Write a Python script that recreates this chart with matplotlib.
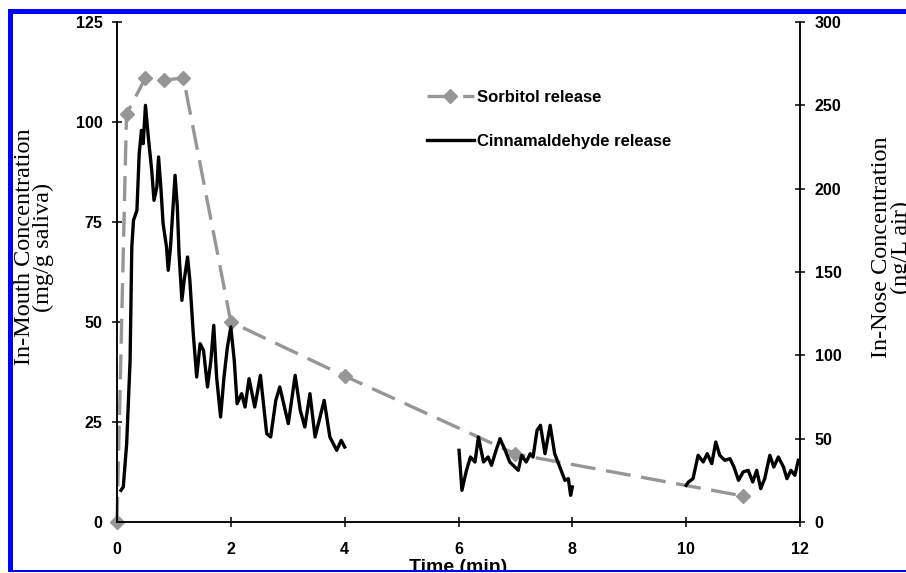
"""In-mouth sorbitol vs in-nose cinnamaldehyde release over time."""

import matplotlib

matplotlib.use("Agg")
import matplotlib.pyplot as plt
from matplotlib.font_manager import FontProperties
from matplotlib.patches import Rectangle

# Sorbitol, in-mouth (mg/g saliva), left axis
sorbitol_time = [0, 0.167, 0.5, 0.833, 1.167, 2, 4, 7, 11]
sorbitol_conc = [0, 102, 111, 110.5, 111, 50, 36.5, 17, 6.5]

# Cinnamaldehyde, in-nose (ng/L air), right axis -- three recorded stretches
cinn_time_1 = [0.07, 0.11, 0.17, 0.23, 0.26, 0.29, 0.35, 0.39, 0.43, 0.46,
               0.50, 0.55, 0.61, 0.65, 0.70, 0.73, 0.77, 0.81, 0.87, 0.90,
               0.94, 1.02, 1.06, 1.09, 1.14, 1.18, 1.24, 1.28, 1.34, 1.40,
               1.46, 1.52, 1.59, 1.65, 1.70, 1.75, 1.82, 1.88, 1.94, 2.00,
               2.06, 2.11, 2.19, 2.25, 2.32, 2.42, 2.52, 2.63, 2.70, 2.79,
               2.86, 3.01, 3.13, 3.22, 3.30, 3.39, 3.48, 3.64, 3.74, 3.86,
               3.94, 4.00]
cinn_conc_1 = [19, 21, 47, 97, 165, 181, 187, 221, 235, 227,
               250, 231, 211, 193, 201, 219, 201, 179, 165, 151,
               165, 208, 189, 161, 133, 145, 159, 145, 113, 87,
               107, 103, 81, 97, 118, 87, 63, 87, 105, 117,
               97, 71, 77, 69, 86, 69, 88, 53, 51, 73,
               81, 59, 88, 67, 57, 77, 51, 73, 51, 43,
               49, 45]

cinn_time_2 = [6.01, 6.06, 6.14, 6.21, 6.29, 6.35, 6.44, 6.52, 6.58, 6.66,
               6.73, 6.82, 6.90, 6.99, 7.05, 7.11, 7.19, 7.26, 7.31, 7.38,
               7.44, 7.52, 7.61, 7.69, 7.78, 7.87, 7.93, 7.97, 8.00]
cinn_conc_2 = [43, 19, 31, 39, 36, 51, 36, 39, 34, 43,
               50, 43, 36, 33, 31, 40, 36, 41, 39, 55,
               58, 41, 58, 41, 33, 25, 26, 16, 21]

cinn_time_3 = [10.0, 10.04, 10.12, 10.21, 10.30, 10.37, 10.45, 10.52, 10.59, 10.68,
               10.77, 10.84, 10.92, 11.00, 11.09, 11.17, 11.24, 11.31, 11.38, 11.47,
               11.54, 11.62, 11.71, 11.77, 11.84, 11.91, 11.97]
cinn_conc_3 = [22, 24, 26, 40, 36, 41, 35, 48, 40, 37,
               38, 33, 25, 30, 31, 24, 31, 20, 26, 40,
               33, 39, 33, 26, 31, 28, 37]

x_ticks = [0, 2, 4, 6, 8, 10, 12]
left_ticks = [0, 25, 50, 75, 100, 125]
right_ticks = [0, 50, 100, 150, 200, 250, 300]

GRAY = "#969696"
TICK_FONT = {"family": "Liberation Sans", "weight": "bold", "size": 11.5}
LABEL_FONT = {"family": "Liberation Serif", "size": 17.5}

fig = plt.figure(figsize=(9.06, 5.73), dpi=100)
ax = fig.add_axes([117 / 906, 1 - 522 / 573, 683 / 906, 500 / 573])
ax2 = ax.twinx()

ax.plot(sorbitol_time, sorbitol_conc, color=GRAY, linewidth=2.4, dashes=(7.5, 3.2),
        marker="D", markersize=7.5, clip_on=False, label="Sorbitol release")

first = True
for times, values in [(cinn_time_1, cinn_conc_1), (cinn_time_2, cinn_conc_2),
                      (cinn_time_3, cinn_conc_3)]:
    ax2.plot(times, values, color="black", linewidth=2.4,
             label="Cinnamaldehyde release" if first else None)
    first = False

ax.set_xlim(0, 12)
ax.set_ylim(0, 125)
ax2.set_ylim(0, 300)
ax.set_xticks(x_ticks)
ax.set_yticks(left_ticks)
ax2.set_yticks(right_ticks)

for axis in (ax, ax2):
    axis.spines["top"].set_visible(False)
    for side in ("left", "right", "bottom"):
        axis.spines[side].set_linewidth(1.1)
    axis.tick_params(direction="inout", length=7, width=1.1, pad=7)
    axis.tick_params(axis="x", pad=11)
    for lbl in axis.get_xticklabels() + axis.get_yticklabels():
        lbl.set_fontproperties(FontProperties(**TICK_FONT))

ax.set_xlabel("Time (min)", fontfamily="Liberation Sans", fontweight="bold", fontsize=14)
ax.xaxis.set_label_coords(0.5, -0.074)
ax.set_ylabel("In-Mouth Concentration\n(mg/g saliva)", linespacing=0.9, **LABEL_FONT)
ax.yaxis.set_label_coords(-0.092, 0.55)
ax2.set_ylabel("In-Nose Concentration\n(ng/L air)", linespacing=0.9, rotation=90, **LABEL_FONT)
ax2.yaxis.set_label_coords(1.104, 0.55)

handles = ax.get_lines()[:1] + ax2.get_lines()[:1]
ax2.legend(handles, [h.get_label() for h in handles], loc="upper left",
           bbox_to_anchor=(0.432, 0.895), frameon=False, handlelength=2.8,
           handletextpad=0.2, labelspacing=1.75,
           prop={"family": "Liberation Sans", "weight": "bold", "size": 12})

# blue frame of the cropped figure, with white margins outside it
W, H = 906, 573
frame = [
    (0, 0, 8, H, "white"),
    (0, H - 9, W, 9, "white"),
    (0, 0, W, 1, "white"),
    (8, 1, 5, H - 10, "blue"),
    (8, H - 14, W - 8, 5, "blue"),
    (8, 1, W - 8, 2.5, "blue"),
]
for x0, y0, w, h, color in frame:
    fig.add_artist(Rectangle((x0 / W, y0 / H), w / W, h / H, transform=fig.transFigure,
                             facecolor=color, edgecolor="none", zorder=10))

fig.savefig("out.png", dpi=100)
